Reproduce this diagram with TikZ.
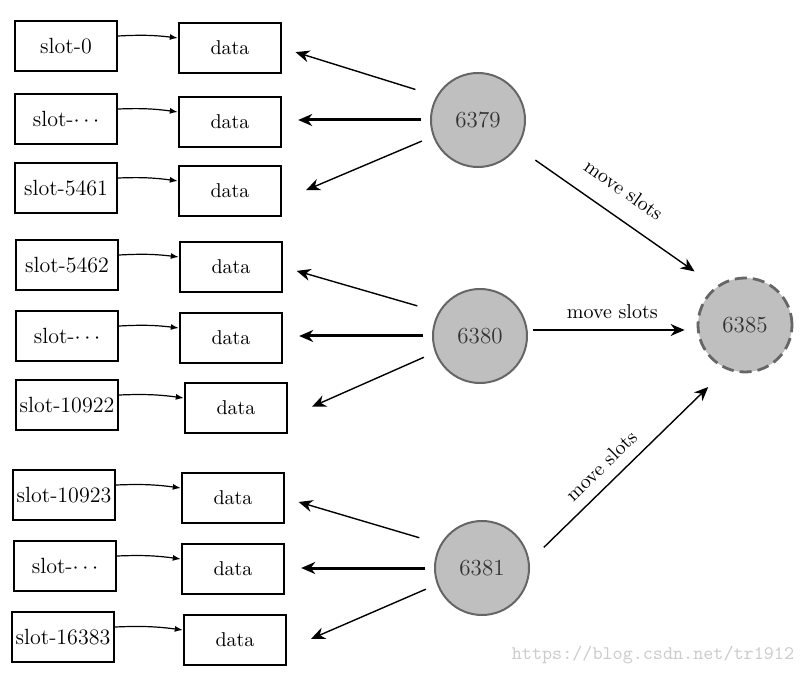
\documentclass[tikz,border=0pt]{standalone}
\usepackage{tikz}
\usetikzlibrary{arrows.meta}

\begin{document}
\begin{tikzpicture}
        [
            x = 0.5pt, y = -0.5pt,
            slotbox/.style = {draw, line width = 1.2pt, minimum width = 51pt, minimum height = 25pt, inner sep = 1pt, font = \fontsize{11}{13}\selectfont},
            databox/.style = {slotbox, font = \fontsize{10}{12}\selectfont},
            server/.style = {circle, draw = black!60, fill = black!25, line width = 1pt, minimum size = 47pt, text = black!80, font = \fontsize{11.5}{13}\selectfont},
            link/.style = {-{Latex[length = 4pt, width = 3pt]}, line width = 0.6pt},
            fetch/.style = {-{Stealth[length = 7pt, width = 6pt]}, line width = 0.7pt},
            migrate/.style = {-{Stealth[length = 7pt, width = 6pt]}, line width = 0.7pt, font = \fontsize{10}{12}\selectfont}
        ]

        \useasboundingbox (0,0) rectangle (805,674);

        % slots of 6379
        \node[slotbox] (s1) at (66,46) {slot-0};
        \node[slotbox] (s2) at (66,119) {slot-$\cdots$};
        \node[slotbox] (s3) at (66,188) {slot-5461};
        \node[databox] (d1) at (230,48) {data};
        \node[databox] (d2) at (230,122) {data};
        \node[databox] (d3) at (230,191) {data};

        % slots of 6380
        \node[slotbox] (s4) at (67,265) {slot-5462};
        \node[slotbox] (s5) at (67,336) {slot-$\cdots$};
        \node[slotbox] (s6) at (67,405) {slot-10922};
        \node[databox] (d4) at (231,267) {data};
        \node[databox] (d5) at (231,338) {data};
        \node[databox] (d6) at (236,408) {data};

        % slots of 6381
        \node[slotbox] (s7) at (64,495) {slot-10923};
        \node[slotbox] (s8) at (65,566) {slot-$\cdots$};
        \node[slotbox] (s9) at (63,637) {slot-16383};
        \node[databox] (d7) at (233,498) {data};
        \node[databox] (d8) at (233,569) {data};
        \node[databox] (d9) at (235,640) {data};

        % nodes
        \node[server] (c1) at (478,120) {6379};
        \node[server] (c2) at (480,336) {6380};
        \node[server] (c3) at (482,568) {6381};
        \node[server, dash pattern = on 6pt off 3pt, line width = 1.4pt] (c4) at (745,325) {6385};

        \foreach \i in {1,...,9}
            \draw[link] ([yshift = 5pt]s\i.east) to[bend left = 5] ([yshift = 5pt]d\i.west);

        \draw[fetch, shorten < = 11pt, shorten > = 7pt] (c1.150) -- (d1.east);
        \draw[fetch, line width = 1.5pt, shorten < = 4.5pt, shorten > = 8pt] (c1.west) -- (c1.west -| d2.east);
        \draw[fetch, shorten < = 6pt, shorten > = 13pt] (c1.200) -- (d3.-10);

        \draw[fetch, shorten < = 11pt, shorten > = 7pt] (c2.150) -- (d4.east);
        \draw[fetch, line width = 1.5pt, shorten < = 4.5pt, shorten > = 8pt] (c2.west) -- (c2.west -| d5.east);
        \draw[fetch, shorten < = 6pt, shorten > = 13pt] (c2.200) -- (d6.-10);

        \draw[fetch, shorten < = 11pt, shorten > = 7pt] (c3.150) -- (d7.east);
        \draw[fetch, line width = 1.5pt, shorten < = 4.5pt, shorten > = 8pt] (c3.west) -- (c3.west -| d8.east);
        \draw[fetch, shorten < = 6pt, shorten > = 13pt] (c3.200) -- (d9.-10);

        % moving slots to 6385
        \draw[migrate, shorten < = 11pt, shorten > = 13pt] (c1) -- node[pos = 0.46, sloped, above = 6pt] {move slots} (c4.127);
        \draw[migrate, shorten < = 2.5pt, shorten > = 6pt] ([yshift = 3pt]c2.east) -- node[above = 2pt] {move slots} ([yshift = 3pt]c2.east -| c4.west);
        \draw[migrate, shorten < = 10pt, shorten > = 12.5pt] (c3.8) -- node[pos = 0.43, sloped, above = 2pt] {move slots} (c4.247);

        \node[text = black!20, font = \ttfamily\fontsize{9.6}{11}\selectfont] (mark) at (653,655) {https://blog.csdn.net/tr1912};
    \end{tikzpicture}
\end{document}
